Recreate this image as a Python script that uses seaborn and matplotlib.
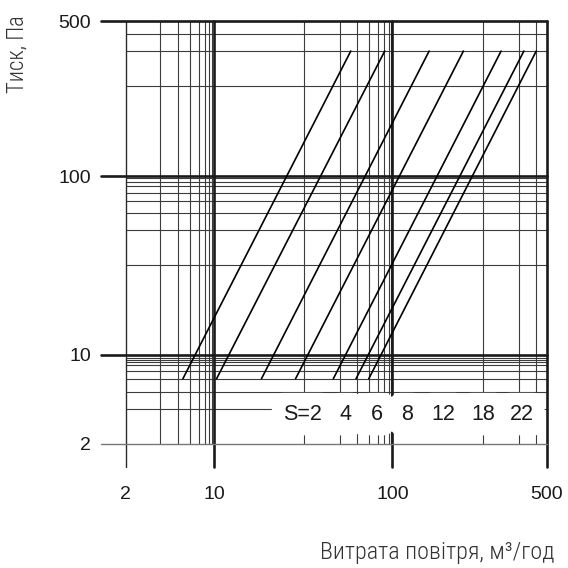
import numpy as np
import pandas as pd
import matplotlib
matplotlib.use("Agg")
import matplotlib.pyplot as plt
from matplotlib import font_manager
import seaborn as sns

# ---------------- data ----------------
S_VALUES = [2, 4, 6, 8, 12, 18, 22]
FLOW_LOW = [5.66, 10.3, 18.4, 28.6, 46.6, 62.5, 73.7]      # m3/h at lower end
FLOW_HIGH = [58.4, 90.6, 146.6, 209.5, 310, 393, 447]      # m3/h at upper end
P_LOW = 6.5      # Pa, lower end of every line
P_HIGH = 366     # Pa, upper end of every line

X_TICKS = [2, 10, 100, 500]
Y_TICKS = [2, 10, 100, 500]
X_MINOR = [3.77, 5.17, 6.42, 7.52, 8.38, 9.13, 9.68,
           32.0, 50.6, 63.1, 73.7, 83.1, 89.5, 95.4, 98.0,
           258, 372, 445]
Y_MINOR = [3.78, 5.13, 6.42, 7.46, 8.30, 8.82, 9.14, 9.54,
           31.7, 49.8, 62.1, 72.8, 81.0, 87.6, 93.0, 97.9,
           255, 366, 437]
LABEL_X = [31.1, 54.9, 81.7, 116.2, 169.5, 257, 385]
LABEL_Y = 3.43
LABEL_TEXT = ["S=2", "4", "6", "8", "12", "18", "22"]

# ------------- piecewise logarithmic axis scale -------------
W1, W2, W3 = 89.0, 178.5, 155.0
S1 = W1 / (1 - np.log10(2))
S2 = W2
S3 = W3 / np.log10(5)


def fwd(v):
    v = np.asarray(v, dtype=float)
    u = np.log10(np.clip(v, 1e-12, None))
    return np.where(u < 1, S1 * (u - 1),
                    np.where(u < 2, S2 * (u - 1), S2 + S3 * (u - 2)))


def inv(p):
    p = np.asarray(p, dtype=float)
    u = np.where(p < 0, 1 + p / S1,
                 np.where(p < S2, 1 + p / S2, 2 + (p - S2) / S3))
    return 10 ** u


# pick a condensed font for the axis titles if one is installed
names = {f.name for f in font_manager.fontManager.ttflist}
cond_family = None
cond_stretch = "normal"
for cand in ["Liberation Sans Narrow", "Roboto Condensed", "Open Sans Condensed",
             "DejaVu Sans Condensed", "Noto Sans Condensed"]:
    if cand in names:
        cond_family = cand
        break
if cond_family is None:
    for f in font_manager.fontManager.ttflist:
        if f.name in ("DejaVu Sans", "Noto Sans", "Open Sans", "Roboto") and \
                str(f.stretch) in ("condensed", "semi-condensed", "75", "87.5", "62.5"):
            cond_family = f.name
            cond_stretch = "condensed"
            break
if cond_family is None:
    cond_family = "Roboto"
title_kw = dict(family=[cond_family, "DejaVu Sans"], stretch=cond_stretch,
                weight="light", color="#333333")

sns.set_theme(style="white")
plt.rcParams["font.family"] = ["Liberation Sans", "DejaVu Sans"]

fig = plt.figure(figsize=(5.68, 5.68), dpi=100)
ax = fig.add_axes([125.5 / 568, 1 - 444 / 568, (547 - 125.5) / 568, (444 - 21) / 568])

rows = []
for s, lo, hi in zip(S_VALUES, FLOW_LOW, FLOW_HIGH):
    rows.append({"S": s, "flow": lo, "pressure": P_LOW})
    rows.append({"S": s, "flow": hi, "pressure": P_HIGH})
df = pd.DataFrame(rows)

ax.set_xscale("function", functions=(fwd, inv))
ax.set_yscale("function", functions=(fwd, inv))

sns.lineplot(data=df, x="flow", y="pressure", units="S", estimator=None,
             sort=False, color="black", lw=1.2, ax=ax, zorder=3, legend=False)
ax.set_xlabel("")
ax.set_ylabel("")

ax.set_xlim(2, 500)
ax.set_ylim(2, 500)

minor_kw = dict(color="#3c3c3c", lw=0.8, zorder=1)
for v in X_MINOR:
    ax.axvline(v, **minor_kw)
for v in Y_MINOR:
    ax.axhline(v, **minor_kw)

ext_y = 23 / 423
ext_x = 25 / 421.5
for v in X_TICKS:
    thin = v == 2
    ax.axvline(v, ymin=-ext_y, ymax=1, clip_on=False,
               color="#2a2a2a" if thin else "#1a1a1a",
               lw=1.0 if thin else 1.9, zorder=2)
for v in Y_TICKS:
    thin = v == 2
    ax.axhline(v, xmin=-ext_x, xmax=1, clip_on=False,
               color="#777777" if thin else "#1a1a1a",
               lw=1.0 if thin else 1.9, zorder=2)

for sp in ax.spines.values():
    sp.set_visible(False)

ax.set_xticks(X_TICKS)
ax.set_xticklabels([str(t) for t in X_TICKS])
ax.set_yticks(Y_TICKS)
ax.set_yticklabels([str(t) for t in Y_TICKS])
ax.minorticks_off()
ax.tick_params(axis="x", length=0, pad=30, labelsize=14, colors="#1a1a1a")
ax.tick_params(axis="y", length=0, pad=25, labelsize=14, colors="#1a1a1a")

for xv, t in zip(LABEL_X, LABEL_TEXT):
    ax.text(xv, LABEL_Y, t, ha="center", va="center", fontsize=15.5,
            color="#1a1a1a", zorder=4,
            bbox=dict(boxstyle="round,pad=0.5", fc="white", ec="none"))

# axis titles, sized to the span they take in the chart
ylab = fig.text(17 / 568, 1 - 54 / 568, "Тиск, Па", rotation=90,
                ha="center", va="center", fontsize=15, **title_kw)
xlab = fig.text(555 / 568, 1 - 552 / 568, "Витрата повітря, м³/год",
                ha="right", va="center", fontsize=17, **title_kw)
fig.canvas.draw()
r = fig.canvas.get_renderer()
wx = xlab.get_window_extent(r).width
xlab.set_fontsize(17 * 235 / wx)
hy = ylab.get_window_extent(r).height
ylab.set_fontsize(15 * 78 / hy)

fig.savefig("out.png", dpi=100, facecolor="white")
